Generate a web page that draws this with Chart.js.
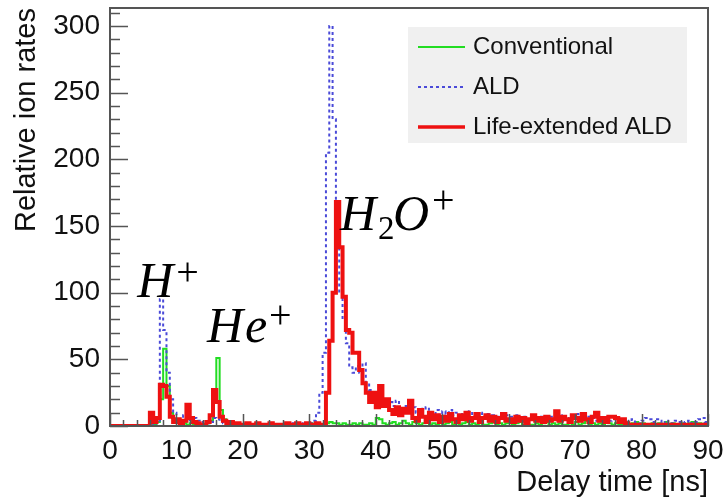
<!DOCTYPE html>
<html>
<head>
<meta charset="utf-8">
<script src="https://cdn.jsdelivr.net/npm/chart.js@4.4.1/dist/chart.umd.min.js"></script>
<style>
  body { margin: 0; background: #fff; }
</style>
</head>
<body>
<canvas id="ionChart" width="727" height="500"></canvas>
<script>
// histogram bins: 0.5 ns wide, 0..90 ns
var binWidth = 0.5;
var xMin = 0, xMax = 90;
var seriesNames = ['Conventional', 'ALD', 'Life-extended ALD'];
var yTickLabels = [0, 50, 100, 150, 200, 250, 300];
var xTickLabels = [0, 10, 20, 30, 40, 50, 60, 70, 80, 90];

var conventional = [
  0,0,0,0,0,0,0,0,0,0,0,0,0,1,3,20,58,30,10,5,
  3,1,2,1,2,1,1,0,1,2,4,20,51,12,5,3,2,1,1,1,
  1,0,1,1,0,1,1,0,1,1,1,0,1,1,0,1,1,0,1,1,
  2,1,1,0,1,2,3,2,2,1,2,1,1,2,1,2,1,1,2,1,
  6,5,2,1,2,3,1,2,4,2,1,3,2,1,2,3,1,2,1,2,
  1,2,3,1,2,1,2,3,1,2,1,2,1,1,2,3,1,2,1,2,
  2,1,2,3,1,2,1,1,2,1,2,3,1,2,1,2,1,1,2,1,
  3,1,2,4,1,2,1,2,1,3,2,1,2,1,1,2,1,2,3,1,
  2,1,1,2,1,2,1,3,1,2,1,1,2,1,2,3,1,2,1,2
];
var ald = [
  0,0,0,0,0,0,0,0,0,0,0,0,0,1,4,95,72,40,20,10,
  5,4,8,5,3,6,4,3,2,2,3,6,5,3,2,3,2,1,2,1,
  1,1,2,1,1,0,1,1,2,1,1,1,0,1,1,2,1,1,2,1,
  2,4,10,25,55,205,300,230,165,100,80,62,44,40,45,40,47,32,27,25,
  22,24,20,17,18,15,19,13,12,15,11,14,10,13,12,14,10,9,12,8,
  11,9,12,8,10,7,9,8,11,7,8,10,7,9,6,8,7,9,6,8,
  7,5,8,6,7,5,6,8,5,7,6,4,7,5,6,8,5,6,4,7,
  9,6,8,5,7,6,4,6,5,7,4,5,6,3,5,4,3,5,3,2,
  4,6,5,3,5,4,2,4,3,2,4,3,2,3,4,2,3,5,6,3
];
var lifeExtended = [
  0,0,0,0,0,0,0,0,0,0,0,0,10,3,6,31,30,22,7,3,
  5,2,4,16,6,3,2,1,1,3,8,27,18,7,4,2,3,1,2,1,
  1,2,1,1,2,1,0,1,2,1,1,0,1,2,1,1,2,1,1,2,
  1,1,2,1,1,25,64,100,168,134,97,72,70,55,55,42,32,25,18,25,
  14,30,15,20,12,9,14,8,13,10,19,6,4,12,7,3,10,5,8,3,
  7,4,9,5,3,8,5,10,4,6,9,3,6,8,4,7,3,6,9,4,
  5,3,7,4,6,2,5,8,4,6,3,7,4,5,11,4,7,5,3,8,
  6,4,9,5,3,7,10,4,6,3,7,7,6,3,5,2,1,1,0,1,
  1,0,1,1,0,1,1,0,1,1,0,1,1,0,1,1,0,1,1,1
];

function toPoints(values) {
  var pts = [{x: xMin, y: values[0]}];
  values.forEach(function (v, i) {
    pts.push({x: xMin + binWidth * (i + 0.5), y: v});
  });
  pts.push({x: xMax, y: values[values.length - 1]});
  return pts;
}

var font = '"Liberation Sans", Arial, sans-serif';
var serif = '"Liberation Serif", "Times New Roman", serif';

// ROOT-style frame with ticks pointing inwards
var frameTicks = {
  id: 'frameTicks',
  afterDatasetsDraw: function (chart) {
    var ctx = chart.ctx, a = chart.chartArea;
    var x = chart.scales.x, y = chart.scales.y;
    ctx.save();
    ctx.strokeStyle = '#555';
    ctx.lineWidth = 1.5;
    ctx.beginPath();
    for (var v = xMin; v <= xMax; v += 2) {
      var px = Math.round(x.getPixelForValue(v)) + 0.5;
      var len = v % 10 === 0 ? 12 : 6;
      ctx.moveTo(px, a.bottom);
      ctx.lineTo(px, a.bottom - len);
    }
    for (var w = 0; w <= y.max; w += 10) {
      var py = Math.round(y.getPixelForValue(w)) + 0.5;
      var l2 = w % 50 === 0 ? 18 : 10;
      ctx.moveTo(a.left, py);
      ctx.lineTo(a.left + l2, py);
    }
    ctx.stroke();
    ctx.lineWidth = 2;
    ctx.strokeRect(a.left, a.top, a.right - a.left, a.bottom - a.top);
    ctx.restore();
  }
};

// legend box in the upper right corner
var rootLegend = {
  id: 'rootLegend',
  afterDraw: function (chart) {
    var ctx = chart.ctx, a = chart.chartArea;
    var bx = a.right - 300, by = a.top + 19;
    ctx.save();
    ctx.fillStyle = '#f0f0f0';
    ctx.fillRect(bx, by, 279, 116);
    var rows = [
      {label: seriesNames[0], color: '#22dd22', width: 2, dash: []},
      {label: seriesNames[1], color: '#4a4ad8', width: 2, dash: [3, 3]},
      {label: seriesNames[2], color: '#ee1111', width: 3.5, dash: []}
    ];
    rows.forEach(function (r, i) {
      var cy = by + 20 + i * 40;
      ctx.strokeStyle = r.color;
      ctx.lineWidth = r.width;
      ctx.setLineDash(r.dash);
      ctx.beginPath();
      ctx.moveTo(bx + 10, cy);
      ctx.lineTo(bx + 57, cy);
      ctx.stroke();
      ctx.setLineDash([]);
      ctx.fillStyle = '#111';
      ctx.font = '24px ' + font;
      ctx.textBaseline = 'middle';
      ctx.fillText(r.label, bx + 65, cy);
    });
    ctx.restore();
  }
};

// LaTeX-like ion labels
var ionLabels = {
  id: 'ionLabels',
  afterDraw: function (chart) {
    var ctx = chart.ctx;
    var x = chart.scales.x, y = chart.scales.y;
    var labels = [
      {at: [4.1, 96.7], parts: [['H', 0, 0, 'i'], ['+', 39, -12, 'p']]},
      {at: [14.6, 63], parts: [['H', 0, 0, 'i'], ['e', 38, 0, 'i'], ['+', 62, -14, 'p']]},
      {at: [34.6, 147], parts: [['H', 0, 0, 'i'], ['2', 38, 9, 's'], ['O', 53, 0, 'i'], ['+', 92, -17, 'p']]}
    ];
    ctx.save();
    ctx.fillStyle = '#000';
    ctx.textBaseline = 'alphabetic';
    labels.forEach(function (lb) {
      var px = x.getPixelForValue(lb.at[0]);
      var py = y.getPixelForValue(lb.at[1]);
      lb.parts.forEach(function (p) {
        if (p[3] === 'i') ctx.font = 'italic 50px ' + serif;
        else if (p[3] === 'p') ctx.font = '40px ' + serif;
        else ctx.font = '33px ' + serif;
        ctx.fillText(p[0], px + p[1], py + p[2]);
      });
    });
    ctx.restore();
  }
};

var ctx = document.getElementById('ionChart').getContext('2d');
var myChart = new Chart(ctx, {
  type: 'line',
  data: {
    datasets: [{
      label: seriesNames[2],
      data: toPoints(lifeExtended),
      borderColor: '#ee1111',
      borderWidth: 4,
      stepped: 'middle',
      pointRadius: 0,
      order: 1
    }, {
      label: seriesNames[1],
      data: toPoints(ald),
      borderColor: '#4a4ad8',
      borderWidth: 2,
      borderDash: [3, 3],
      stepped: 'middle',
      pointRadius: 0,
      order: 2
    }, {
      label: seriesNames[0],
      data: toPoints(conventional),
      borderColor: '#22dd22',
      borderWidth: 2,
      stepped: 'middle',
      pointRadius: 0,
      order: 3
    }]
  },
  options: {
    responsive: false,
    animation: false,
    devicePixelRatio: 1,
    layout: {padding: {top: 8, right: 19, left: 0, bottom: 0}},
    plugins: {legend: {display: false}, tooltip: {enabled: false}},
    scales: {
      x: {
        type: 'linear',
        min: xMin,
        max: xMax,
        grid: {display: false, drawTicks: false},
        border: {display: false},
        afterBuildTicks: function (scale) {
          scale.ticks = xTickLabels.map(function (v) { return {value: v}; });
        },
        afterFit: function (scale) {
          scale.height = 74;
          scale.paddingLeft = 0;
          scale.paddingRight = 0;
        },
        ticks: {
          color: '#111',
          padding: 8,
          maxRotation: 0,
          autoSkip: false,
          font: {family: font, size: 28}
        },
        title: {
          display: true,
          text: 'Delay time [ns]',
          align: 'end',
          color: '#111',
          font: {family: font, size: 29},
          padding: {top: 0, bottom: 0}
        }
      },
      y: {
        min: 0,
        max: 313.5,
        grid: {display: false, drawTicks: false},
        border: {display: false},
        afterBuildTicks: function (scale) {
          scale.ticks = yTickLabels.map(function (v) { return {value: v}; });
        },
        afterFit: function (scale) {
          scale.width = 110;
          scale.paddingTop = 0;
          scale.paddingBottom = 0;
        },
        ticks: {
          color: '#111',
          padding: 10,
          font: {family: font, size: 28}
        },
        title: {
          display: true,
          text: 'Relative ion rates',
          align: 'end',
          color: '#111',
          font: {family: font, size: 29},
          padding: {top: 10, bottom: 0}
        }
      }
    }
  },
  plugins: [frameTicks, rootLegend, ionLabels]
});
</script>
</body>
</html>
